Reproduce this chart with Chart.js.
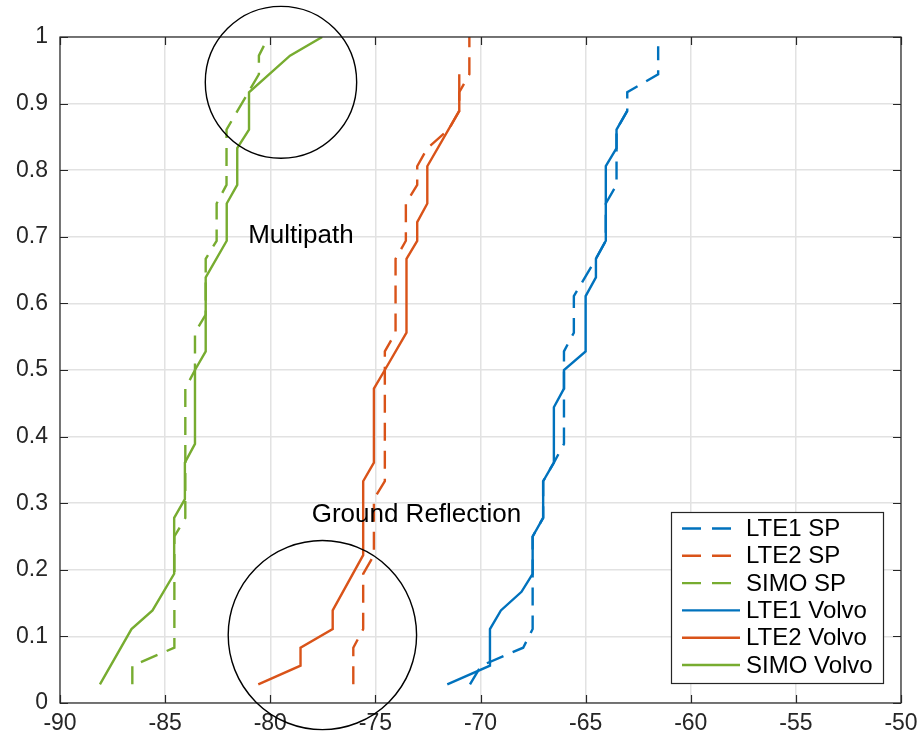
<!DOCTYPE html>
<html>
<head>
<meta charset="utf-8">
<script src="https://cdn.jsdelivr.net/npm/chart.js@4.4.1/dist/chart.umd.min.js"></script>
<style>
  html, body { margin: 0; padding: 0; background: #fff; }
  #wrap { width: 921px; height: 735px; }
</style>
</head>
<body>
<div id="wrap"><canvas id="cdf_chart" width="921" height="735"></canvas></div>
<script>
// values (received power in dB vs. CDF)
const seriesNames = ['LTE1 SP', 'LTE2 SP', 'SIMO SP', 'LTE1 Volvo', 'LTE2 Volvo', 'SIMO Volvo'];

const lte1SpX = [-70.50, -69.97, -67.97, -67.52, -67.52, -67.02, -67.02, -66.51, -66.03, -66.03, -65.56, -65.56, -65.03, -64.51, -64.04, -64.04, -63.53, -63.53, -63.02, -63.02, -61.55, -61.55];
const lte1SpY = [0.028, 0.056, 0.083, 0.111, 0.250, 0.278, 0.333, 0.361, 0.389, 0.528, 0.556, 0.611, 0.639, 0.667, 0.694, 0.750, 0.778, 0.861, 0.889, 0.917, 0.944, 0.986];

const lte2SpX = [-76.05, -76.05, -75.58, -75.58, -75.07, -75.07, -74.55, -74.55, -74.04, -74.04, -73.55, -73.55, -73.01, -73.01, -72.53, -71.52, -71.01, -71.01, -70.53, -70.53];
const lte2SpY = [0.028, 0.083, 0.111, 0.194, 0.222, 0.306, 0.333, 0.528, 0.556, 0.667, 0.694, 0.750, 0.778, 0.806, 0.833, 0.861, 0.889, 0.917, 0.944, 1.000];

const simoSpX = [-86.56, -86.56, -84.56, -84.56, -84.04, -84.04, -83.58, -83.58, -83.07, -83.07, -82.55, -82.55, -82.08, -82.08, -81.56, -81.04, -80.54, -80.54, -80.09];
const simoSpY = [0.028, 0.056, 0.083, 0.250, 0.278, 0.472, 0.500, 0.556, 0.583, 0.667, 0.694, 0.750, 0.778, 0.861, 0.889, 0.917, 0.944, 0.972, 1.000];

const lte1VolvoX = [-71.58, -69.55, -69.55, -69.03, -68.05, -67.52, -67.52, -67.02, -67.02, -66.51, -66.51, -66.03, -66.03, -65.00, -65.00, -64.51, -64.51, -64.04, -64.04, -63.53, -63.53, -63.02];
const lte1VolvoY = [0.028, 0.056, 0.111, 0.139, 0.167, 0.194, 0.250, 0.278, 0.333, 0.361, 0.444, 0.472, 0.500, 0.528, 0.611, 0.639, 0.667, 0.694, 0.806, 0.833, 0.861, 0.889];

const lte2VolvoX = [-80.57, -78.56, -78.56, -77.03, -77.03, -75.58, -75.58, -75.07, -75.07, -74.55, -73.52, -73.52, -73.01, -73.01, -72.53, -72.53, -71.01, -71.01];
const lte2VolvoY = [0.028, 0.056, 0.083, 0.111, 0.139, 0.222, 0.333, 0.361, 0.472, 0.500, 0.556, 0.667, 0.694, 0.722, 0.750, 0.806, 0.889, 0.944];

const simoVolvoX = [-88.10, -86.60, -85.60, -84.57, -84.57, -84.06, -84.06, -83.58, -83.58, -83.07, -83.07, -82.07, -82.07, -81.57, -81.57, -81.01, -81.01, -79.06, -77.53];
const simoVolvoY = [0.028, 0.111, 0.139, 0.194, 0.278, 0.306, 0.361, 0.389, 0.500, 0.528, 0.639, 0.694, 0.750, 0.778, 0.833, 0.861, 0.917, 0.972, 1.000];

// axis ticks
const xTicks = [-90, -85, -80, -75, -70, -65, -60, -55, -50];
const yTicks = [0, 0.1, 0.2, 0.3, 0.4, 0.5, 0.6, 0.7, 0.8, 0.9, 1];

// annotations (data units)
const noteLabels = ['Multipath', 'Ground Reflection'];
const noteX = [-81.05, -78.03];
const noteY = [0.702, 0.283];
const ringX = [-79.49, -77.52];
const ringY = [0.932, 0.102];
const ringRx = [3.60, 4.48];
const ringRy = [0.114, 0.142];

const CdfChart = (function () {

    const FONT = '"Liberation Sans", Arial, Helvetica, sans-serif';
    const INK = '#262626';
    const blue = 'rgb(0, 114, 189)';
    const orange = 'rgb(217, 83, 25)';
    const green = 'rgb(119, 172, 48)';
    const DASH = [18, 10];

    let toPoints = function (xs, ys) {
        return xs.map((v, i) => ({ x: v, y: ys[i] }));
    };

    let makeSet = function (name, xs, ys, color, dashed) {
        return {
            label: name,
            data: toPoints(xs, ys),
            borderColor: color,
            backgroundColor: color,
            borderWidth: 2.4,
            borderDash: dashed ? DASH : [],
            pointRadius: 0,
            tension: 0,
            fill: false,
            showLine: true
        };
    };

    // box, inward ticks, circles, notes and legend (MATLAB look)
    let overlay = {
        id: 'overlay',
        afterDraw: function (chart) {
            const ctx = chart.ctx;
            const a = chart.chartArea;
            const x = chart.scales.x;
            const y = chart.scales.y;
            ctx.save();

            ctx.strokeStyle = INK;
            ctx.lineWidth = 1.2;
            ctx.setLineDash([]);
            ctx.strokeRect(a.left, a.top, a.right - a.left, a.bottom - a.top);

            ctx.beginPath();
            xTicks.forEach(function (t) {
                const px = Math.round(x.getPixelForValue(t)) + 0.5;
                ctx.moveTo(px, a.bottom); ctx.lineTo(px, a.bottom - 8);
                ctx.moveTo(px, a.top); ctx.lineTo(px, a.top + 8);
            });
            yTicks.forEach(function (t) {
                const py = Math.round(y.getPixelForValue(t)) + 0.5;
                ctx.moveTo(a.left, py); ctx.lineTo(a.left + 8, py);
                ctx.moveTo(a.right, py); ctx.lineTo(a.right - 8, py);
            });
            ctx.stroke();

            // circles
            ctx.strokeStyle = '#000';
            ctx.lineWidth = 1.4;
            ringX.forEach(function (cx0, i) {
                const cx = x.getPixelForValue(cx0);
                const cy = y.getPixelForValue(ringY[i]);
                const rx = Math.abs(x.getPixelForValue(cx0 + ringRx[i]) - cx);
                const ry = Math.abs(y.getPixelForValue(ringY[i] + ringRy[i]) - cy);
                ctx.beginPath();
                ctx.ellipse(cx, cy, rx, ry, 0, 0, Math.PI * 2);
                ctx.stroke();
            });

            // notes
            ctx.fillStyle = '#000';
            ctx.font = '26px ' + FONT;
            ctx.textAlign = 'left';
            ctx.textBaseline = 'middle';
            noteLabels.forEach(function (txt, i) {
                ctx.fillText(txt, x.getPixelForValue(noteX[i]), y.getPixelForValue(noteY[i]));
            });

            // legend
            const L = 671, R = 883, T = 512, B = 683;
            ctx.fillStyle = '#fff';
            ctx.fillRect(L, T, R - L, B - T);
            ctx.strokeStyle = INK;
            ctx.lineWidth = 1.2;
            ctx.strokeRect(L + 0.5, T + 0.5, R - L, B - T);
            ctx.font = '24px ' + FONT;
            ctx.textBaseline = 'middle';
            chart.data.datasets.forEach(function (ds, i) {
                const ry = 528.5 + i * 27.3;
                ctx.strokeStyle = ds.borderColor;
                ctx.lineWidth = 2.4;
                ctx.setLineDash(ds.borderDash.length ? [19, 11] : []);
                ctx.beginPath();
                ctx.moveTo(682, ry);
                ctx.lineTo(740, ry);
                ctx.stroke();
                ctx.setLineDash([]);
                ctx.fillStyle = '#000';
                ctx.fillText(ds.label, 746, ry + 1);
            });

            ctx.restore();
        }
    };

    return {
        init: function () {
            let ctx = document.getElementById('cdf_chart').getContext('2d');
            let myChart = new Chart(ctx, {
                type: 'scatter',
                data: {
                    datasets: [
                        makeSet(seriesNames[0], lte1SpX, lte1SpY, blue, true),
                        makeSet(seriesNames[1], lte2SpX, lte2SpY, orange, true),
                        makeSet(seriesNames[2], simoSpX, simoSpY, green, true),
                        makeSet(seriesNames[3], lte1VolvoX, lte1VolvoY, blue, false),
                        makeSet(seriesNames[4], lte2VolvoX, lte2VolvoY, orange, false),
                        makeSet(seriesNames[5], simoVolvoX, simoVolvoY, green, false)
                    ]
                },
                options: {
                    responsive: false,
                    animation: false,
                    layout: { padding: { top: 37, right: 20, bottom: 0, left: 0 } },
                    plugins: {
                        legend: { display: false },
                        tooltip: { enabled: false }
                    },
                    scales: {
                        x: {
                            type: 'linear',
                            min: -90,
                            max: -50,
                            afterBuildTicks: function (s) {
                                s.ticks = xTicks.map(v => ({ value: v }));
                            },
                            ticks: {
                                autoSkip: false,
                                maxRotation: 0,
                                padding: 7,
                                color: INK,
                                font: { family: FONT, size: 23 }
                            },
                            grid: { color: '#e2e2e2', lineWidth: 1.5, drawTicks: false },
                            border: { display: false },
                            afterFit: function (s) {
                                s.height = 32;
                                s.paddingLeft = 0;
                                s.paddingRight = 0;
                            }
                        },
                        y: {
                            type: 'linear',
                            min: 0,
                            max: 1,
                            afterBuildTicks: function (s) {
                                s.ticks = yTicks.map(v => ({ value: v }));
                            },
                            ticks: {
                                autoSkip: false,
                                padding: 12,
                                color: INK,
                                font: { family: FONT, size: 23 },
                                callback: function (v) { return String(v); }
                            },
                            grid: { color: '#e2e2e2', lineWidth: 1.5, drawTicks: false },
                            border: { display: false },
                            afterFit: function (s) {
                                s.width = 60;
                                s.paddingTop = 0;
                                s.paddingBottom = 0;
                            }
                        }
                    }
                },
                plugins: [overlay]
            });
        }
    };

}());

CdfChart.init();
</script>
</body>
</html>
